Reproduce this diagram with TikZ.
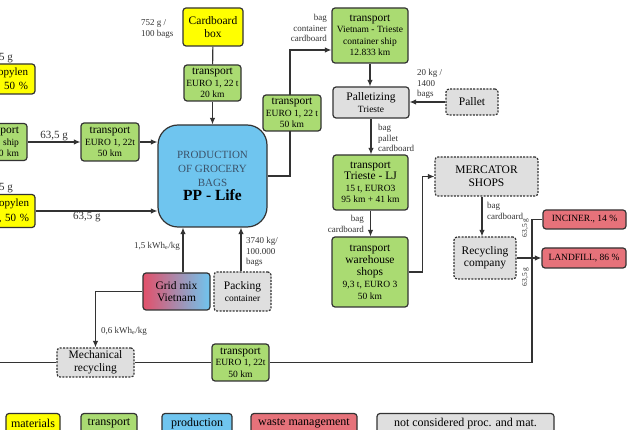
\documentclass[tikz,border=0pt]{standalone}
\usepackage{fontspec}
\setmainfont{Liberation Serif}
\usetikzlibrary{arrows.meta}
\definecolor{matyellow}{HTML}{FFFF00}
\definecolor{transgreen}{HTML}{AADB72}
\definecolor{prodblue}{HTML}{6FC5EF}
\definecolor{wastered}{HTML}{E6727A}
\definecolor{notgray}{HTML}{DFDFDF}
\definecolor{gridred}{HTML}{E2506A}
\definecolor{prodtext}{HTML}{3B5269}
\definecolor{edge}{HTML}{333333}
\newcommand\tbig{\fontsize{11.5}{11.5}\selectfont}
\tikzset{
  box/.style={draw=edge, line width=1.2pt, rounded corners=3pt, align=center, inner sep=1pt, font=\fontsize{9.5}{11.5}\selectfont},
  bigtext/.style={font=\fontsize{11.5}{12.5}\selectfont},
  material/.style={box, fill=matyellow},
  transport/.style={box, fill=transgreen},
  waste/.style={box, fill=wastered},
  process/.style={box, fill=notgray},
  notcons/.style={box, fill=notgray, dash pattern=on 2pt off 1.3pt},
  flow/.style={draw=edge, line width=1.1pt, -{Latex[length=6.5pt,width=5.5pt]}},
  link/.style={draw=edge, line width=1.1pt},
  lbl/.style={font=\fontsize{9}{10.5}\selectfont, text=edge, inner sep=0pt},
  amount/.style={font=\fontsize{11}{12}\selectfont, text=edge, inner sep=1pt},
  legend/.style={box, font=\fontsize{12}{12}\selectfont, minimum height=20pt}
}
\begin{document}
\begin{tikzpicture}[x=1pt, y=-1pt]
    \useasboundingbox (0,0) rectangle (627,430);
    \clip (0,0) rectangle (627,430);
    \node[material, bigtext, minimum width=60pt, minimum height=38pt] (card) at (213,27) {Cardboard\\box};
    \node[transport, minimum width=57pt, minimum height=36pt] (tcard) at (212.5,83) {{\tbig transport}\\EURO 1, 22 t\\20 km};
    \node[material, font=\fontsize{11}{13.5}\selectfont, minimum width=76pt, minimum height=30pt, text width=62pt, align=right] (ytop) at (-3,79) {opylen\\50 \%};
    \node[material, font=\fontsize{11}{14.5}\selectfont, minimum width=76pt, minimum height=33pt, text width=64pt, align=right] (ybot) at (-3,211) {opylen\\, 50 \%};
    \node[transport, minimum width=67pt, minimum height=37pt, text width=51pt, align=right] (tleft) at (-6.5,142) {{\tbig sport}\\ship\\0 km};
    \node[transport, minimum width=58pt, minimum height=38pt] (tmid) at (110,142) {{\tbig transport}\\EURO 1, 22t\\50 km};
    \node[box, fill=prodblue, rounded corners=20pt, text=prodtext, font=\fontsize{11}{14}\selectfont, minimum width=109pt, minimum height=102pt] (prod) at (212.5,176) {PRODUCTION\\OF GROCERY\\BAGS\\{\color{black}\bfseries\fontsize{15.5}{16}\selectfont PP - Life}};
    \node[transport, minimum width=76pt, minimum height=55pt] (tvt) at (370,35.5) {{\tbig transport}\\Vietnam - Trieste\\container ship\\12.833 km};
    \node[process, minimum width=76pt, minimum height=31pt] (pal) at (371,102.5) {{\tbig Palletizing}\\Trieste};
    \node[notcons, bigtext, minimum width=52pt, minimum height=26pt] (pallet) at (472,102) {Pallet};
    \node[transport, minimum width=75pt, minimum height=55pt] (ttlj) at (370.5,182.5) {{\tbig transport}\\{\tbig Trieste - LJ}\\15 t, EURO3\\95 km + 41 km};
    \node[transport, font=\fontsize{9.5}{12}\selectfont, minimum width=76pt, minimum height=70pt] (twh) at (370,272) {{\tbig transport}\\{\tbig warehouse}\\{\tbig shops}\\9,3 t, EURO 3\\50 km};
    \node[notcons, bigtext, minimum width=103pt, minimum height=39pt] (merc) at (486.5,176.5) {MERCATOR\\SHOPS};
    \node[notcons, bigtext, minimum width=62pt, minimum height=42pt] (rec) at (485,258) {Recycling\\company};
    \node[waste, minimum width=83pt, minimum height=19pt] (inc) at (584.5,219.5) {INCINER., 14 \%};
    \node[waste, minimum width=84pt, minimum height=20pt] (land) at (584,258) {LANDFILL, 86 \%};
    \node[box, bigtext, left color=gridred, right color=prodblue, minimum width=67pt, minimum height=37pt] (grid) at (176.5,291.5) {Grid mix\\Vietnam};
    \node[notcons, minimum width=57pt, minimum height=39pt] (pack) at (242.5,291.5) {{\tbig Packing}\\container};
    \node[notcons, bigtext, minimum width=77pt, minimum height=29pt] (mech) at (95.5,362.5) {Mechanical\\recycling};
    \node[transport, minimum width=57pt, minimum height=37pt] (tbot) at (240.5,362.5) {{\tbig transport}\\EURO 1, 22t\\50 km};
    \coordinate (bend) at (290,50);
    \coordinate (corner) at (532,362.5);
    \coordinate (edgeL) at (-10,362.5);
    \draw[link] (card) -- (tcard);
    \draw[flow] (tcard) -- (prod);
    \draw[flow] (tleft.east) -- (tmid.west) node[midway, above, amount] (wa) {63,5 g};
    \draw[flow] (tmid.east) -- (tmid.east -| prod.west);
    \draw[flow] (ybot.east) -- (ybot.east -| prod.west) node[pos=0.42, below, amount] (wb) {63,5 g};
    \draw[flow] (prod.east) -| (bend) -- (bend -| tvt.west);
    \node[transport, minimum width=58pt, minimum height=36pt] (tright) at (292,113) {{\tbig transport}\\EURO 1, 22 t\\50 km};
    \draw[flow] (tvt.south) -- (tvt.south |- pal.north);
    \draw[flow] (pallet.west) -- (pallet.west -| pal.east);
    \draw[flow] (pal.south) -- (pal.south |- ttlj.north);
    \draw[flow] (ttlj.south) -- (ttlj.south |- twh.north);
    \draw[flow] (twh.east) -| ([xshift=-12pt]merc.west) -- (merc.west);
    \draw[flow] ([xshift=-3pt]rec.north |- merc.south) -- ([xshift=-3pt]rec.north);
    \draw[flow] (rec.east) -- (rec.east -| land.west);
    \draw[link] (inc.west) -| (corner) -- (tbot.east);
    \draw[link] (tbot.west) -- (mech.east);
    \draw[link] (mech.west) -- (edgeL);
    \draw[flow] ([xshift=6.5pt]grid.north) -- ([xshift=6.5pt]grid.north |- prod.south);
    \draw[flow] ([xshift=-1.5pt]pack.north) -- ([xshift=-1.5pt]pack.north |- prod.south);
    \draw[flow] (grid.west) -| (mech.north);
    \node[lbl, anchor=west, align=left] (l752) at (141,29) {752 g /\\100 bags};
    \node[lbl, anchor=east, align=right] (lcont) at (327,28) {bag\\container\\cardboard};
    \node[lbl, anchor=west, align=left] (l20) at (417,84) {20 kg /\\1400\\bags};
    \node[lbl, anchor=west, align=left] (lpal) at (378,138) {bag\\pallet\\cardboard};
    \node[lbl, anchor=east, align=right] (lwh) at (364,224) {bag\\cardboard};
    \node[lbl, anchor=west, align=left] (lmerc) at (487,211) {bag\\cardboard};
    \node[lbl, anchor=east] (lgrid) at (180,246) {1,5 kWh$_\mathrm{e}$/kg};
    \node[lbl, anchor=west, align=left] (lpack) at (246,252) {3740 kg/\\100.000\\bags};
    \node[lbl, anchor=west] (lmech) at (101,331) {0,6 kWh$_\mathrm{e}$/kg};
    \node[amount, anchor=east] (wc) at (14,58) {5 g};
    \node[amount, anchor=east] (wd) at (14,188) {5 g};
    \node[lbl, font=\fontsize{7.5}{8}\selectfont, rotate=90] (we) at (525.5,228) {63,5 g};
    \node[lbl, font=\fontsize{7.5}{8}\selectfont, rotate=90] (wf) at (525.5,277) {63,5 g};
    \node[legend, fill=matyellow, minimum width=54pt] (legmat) at (33,423.5) {materials};
    \node[legend, fill=transgreen, minimum width=56pt] (legtrans) at (109,423.5) {transport};
    \node[legend, fill=prodblue, minimum width=70pt] (legprod) at (197,423.5) {production};
    \node[legend, fill=wastered, minimum width=106pt] (legwaste) at (304,423.5) {waste management};
    \node[legend, fill=notgray, minimum width=177pt] (legnot) at (465.5,423.5) {not considered proc. and mat.};
\end{tikzpicture}
\end{document}
